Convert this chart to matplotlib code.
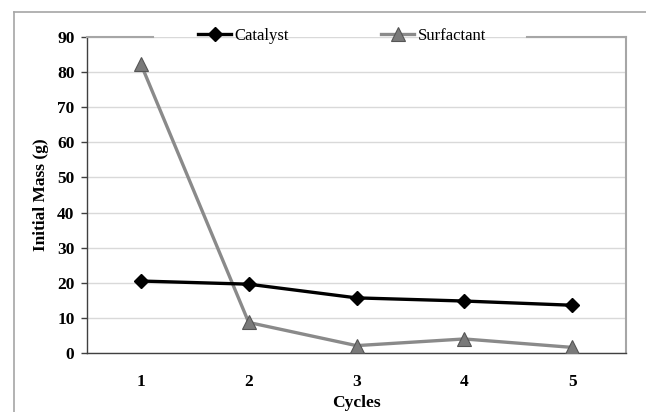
import matplotlib
matplotlib.use("Agg")
import matplotlib.pyplot as plt
from matplotlib.lines import Line2D

cycles = ["1", "2", "3", "4", "5"]
catalyst = [20.5, 19.6, 15.7, 14.8, 13.6]
surfactant = [82.3, 8.7, 2.1, 4.0, 1.6]
yticks = [0, 10, 20, 30, 40, 50, 60, 70, 80, 90]

plt.rcParams['font.family'] = ['Liberation Serif', 'DejaVu Serif']

W, H = 646, 412
fig = plt.figure(figsize=(W / 100, H / 100), dpi=100)
fig.patch.set_facecolor('white')

# outer chart frame (extends beyond right/bottom edges)
fc = '#a6a6a6'
fig.add_artist(Line2D([14 / W, 1.0], [1 - 12 / H, 1 - 12 / H], color=fc, lw=1.2))
fig.add_artist(Line2D([14 / W, 14 / W], [1 - 12 / H, 0.0], color=fc, lw=1.2))

L, R, T, B = 87, 626, 37, 353
ax = fig.add_axes([L / W, 1 - B / H, (R - L) / W, (B - T) / H])

x = list(range(len(cycles)))
ax.plot(x, catalyst, color='black', lw=2.4, marker='D', markersize=7.5,
        markerfacecolor='black', markeredgecolor='black', label='Catalyst', zorder=4)
ax.plot(x, surfactant, color='#8a8a8a', lw=2.4, marker='^', markersize=10,
        markerfacecolor='#7a7a7a', markeredgecolor='#555555', markeredgewidth=0.8,
        label='Surfactant', zorder=3)

ax.set_xlim(-0.5, len(cycles) - 0.5)
ax.set_ylim(0, 90)
ax.set_yticks(yticks)
ax.set_xticks(x)
ax.set_xticklabels(cycles)
ax.yaxis.grid(True, color='#d9d9d9', lw=1.0)
ax.set_axisbelow(True)

for lab in ax.get_xticklabels() + ax.get_yticklabels():
    lab.set_fontweight('bold')
    lab.set_fontsize(12.5)
ax.tick_params(axis='y', direction='out', length=4, width=1, color='#404040', pad=5)
ax.tick_params(axis='x', length=0, pad=15)

ax.spines['left'].set_color('#404040')
ax.spines['bottom'].set_color('#404040')
ax.spines['left'].set_linewidth(1.0)
ax.spines['bottom'].set_linewidth(1.0)
ax.spines['right'].set_color('#a6a6a6')
ax.spines['right'].set_linewidth(1.5)
ax.spines['top'].set_visible(False)

# top border with gap behind the legend
g0 = (153 - L) / (R - L)
g1 = (527 - L) / (R - L)
for a, b in [(0, g0), (g1, 1)]:
    ax.plot([a, b], [1, 1], transform=ax.transAxes, color='#a6a6a6', lw=1.5,
            clip_on=False, zorder=5)

ax.set_xlabel('Cycles', fontsize=12.5, fontweight='bold', labelpad=4)
ax.set_ylabel('Initial Mass (g)', fontsize=12.5, fontweight='bold', labelpad=6)

leg = ax.legend(loc='center', bbox_to_anchor=((342 - L) / (R - L), (B - 36) / (B - T)),
                ncol=2, frameon=False, fontsize=12, handlelength=2.0,
                handletextpad=0.2, columnspacing=5.5, borderaxespad=0)

fig.savefig('out.png', dpi=100, facecolor='white')
